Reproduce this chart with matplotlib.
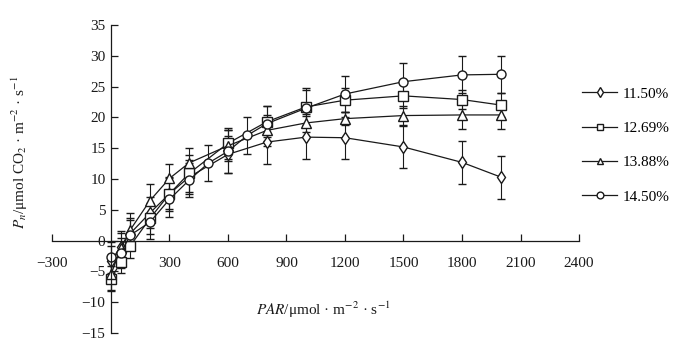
# Light response curves of net photosynthetic rate (Pn) vs PAR

import numpy as np
import matplotlib
matplotlib.use("Agg")
import matplotlib.pyplot as plt

plt.rcParams['font.family'] = ['Liberation Serif', 'DejaVu Serif']
plt.rcParams['mathtext.fontset'] = 'stix'
plt.rcParams['axes.unicode_minus'] = True

# Data
par = [0, 50, 100, 200, 300, 400, 600, 800, 1000, 1200, 1500, 1800, 2000]
par_14 = [0, 50, 100, 200, 300, 400, 500, 600, 700, 800, 1000, 1200, 1500, 1800, 2000]

pn_1150 = [-3.3, -1.0, 1.2, 4.5, 7.6, 10.3, 14.0, 16.0, 16.8, 16.7, 15.2, 12.7, 10.3]
err_1150 = [2.5, 2.5, 2.5, 2.5, 2.8, 2.8, 3.0, 3.5, 3.5, 3.4, 3.4, 3.5, 3.5]

pn_1269 = [-6.2, -3.5, -0.8, 3.6, 7.6, 10.9, 15.8, 19.3, 21.7, 22.8, 23.5, 22.9, 22.0]
err_1269 = [2.0, 1.8, 2.0, 2.5, 2.5, 3.0, 2.5, 2.5, 3.0, 2.0, 2.0, 1.5, 2.0]

pn_1388 = [-5.5, -1.2, 1.8, 6.5, 10.1, 12.6, 15.4, 17.9, 19.1, 19.8, 20.3, 20.4, 20.4]
err_1388 = [2.5, 2.5, 2.7, 2.7, 2.4, 2.4, 2.5, 2.5, 1.5, 1.0, 1.5, 2.3, 2.3]

pn_1450 = [-2.7, -2.0, 0.9, 3.0, 6.7, 9.8, 12.6, 14.5, 17.1, 19.0, 21.5, 23.8, 25.8, 26.9, 27.0]
err_1450 = [2.5, 2.5, 2.5, 2.7, 2.9, 2.8, 3.0, 3.5, 3.0, 2.8, 3.0, 3.0, 3.0, 3.0, 3.0]

labels = ['11.50%', '12.69%', '13.88%', '14.50%']
markers = ['d', 's', '^', 'o']

series = [
    (par, pn_1150, err_1150),
    (par, pn_1269, err_1269),
    (par, pn_1388, err_1388),
    (par_14, pn_1450, err_1450),
]

col = '#1a1a1a'

fig = plt.figure(figsize=(6.87, 3.46), dpi=100)
ax = fig.add_axes([0.0764, 0.0376, 0.7664, 0.8901])

handles = []
for (x, y, e), lab, m in zip(series, labels, markers):
    cont = ax.errorbar(x, y, yerr=e, color=col, lw=0.9, marker=m, markersize=6.5,
                       markerfacecolor='white', markeredgecolor=col, markeredgewidth=1.0,
                       ecolor=col, elinewidth=0.8, capsize=3, capthick=0.8, label=lab)
    handles.append(cont[0])

ax.set_xlim(-300, 2400)
ax.set_ylim(-15, 35)
ax.spines['top'].set_visible(False)
ax.spines['right'].set_visible(False)
ax.spines['left'].set_position(('data', 0))
ax.spines['bottom'].set_position(('data', 0))
for s in ['left', 'bottom']:
    ax.spines[s].set_linewidth(0.9)
    ax.spines[s].set_color(col)

ax.set_xticks([-300, 300, 600, 900, 1200, 1500, 1800, 2100, 2400])
ax.set_yticks(np.arange(-15, 36, 5))
ax.tick_params(axis='x', direction='in', length=5, width=0.9, pad=12, labelsize=11, colors=col)
ax.tick_params(axis='y', direction='in', length=5, width=0.9, pad=4, labelsize=11, colors=col)

fig.text(20 / 687, 1 - 152 / 346, r'$P_n$/μmol CO$_2$ · m$^{-2}$ · s$^{-1}$',
         rotation=90, ha='center', va='center', fontsize=11, color=col)
fig.text(323 / 687, 1 - 310 / 346, r'$PAR$/μmol · m$^{-2}$ · s$^{-1}$',
         ha='center', va='center', fontsize=11, color=col)

fig.legend(handles, labels, loc='upper left', bbox_to_anchor=(582 / 687, 1 - 87 / 346),
           frameon=False, fontsize=11, handlelength=2.3, handletextpad=0.35,
           labelspacing=1.35, markerscale=0.75, borderaxespad=0, borderpad=0)

fig.savefig("out.png", dpi=100)
